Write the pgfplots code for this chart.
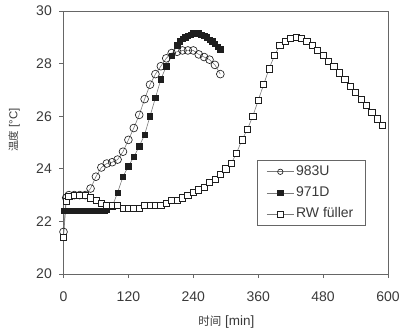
\documentclass[border=0pt]{standalone}
\usepackage{fontspec}
\setmainfont{Liberation Sans}
\newfontfamily\cjk{Noto Sans CJK SC}
\usepackage{pgfplots}
\pgfplotsset{compat=1.18}
\definecolor{axc}{HTML}{666666}
\definecolor{txc}{HTML}{3A3A3A}
\definecolor{lnc}{HTML}{7A7A7A}
\definecolor{mkc}{HTML}{1E1E1E}

\pgfplotstableread{
x y
0 21.6
5 22.9
10 23.0
20 23.0
30 23.0
40 23.0
50 23.25
60 23.7
70 24.05
80 24.2
90 24.25
100 24.35
110 24.65
120 25.1
130 25.55
140 26.05
150 26.65
160 27.2
170 27.6
180 27.9
190 28.2
200 28.4
210 28.45
220 28.5
230 28.5
240 28.5
250 28.35
260 28.25
270 28.15
280 27.95
290 27.6
}\tabU

\pgfplotstableread{
x y
0 22.4
5 22.4
10 22.4
15 22.4
20 22.4
25 22.4
30 22.4
35 22.4
40 22.4
45 22.4
50 22.4
55 22.4
60 22.4
65 22.4
70 22.4
75 22.4
80 22.45
90 22.55
100 23.1
110 23.7
120 24.1
130 24.45
140 24.85
150 25.3
160 26.0
170 26.7
180 27.4
190 27.9
200 28.3
210 28.7
215 28.85
220 28.95
225 29.0
230 29.05
235 29.1
240 29.15
245 29.15
250 29.15
255 29.1
260 29.05
265 29.0
270 28.9
275 28.85
280 28.75
285 28.65
290 28.55
}\tabD

\pgfplotstableread{
x y
0 21.4
5 22.75
10 22.95
20 23.0
30 23.0
40 23.0
50 22.9
60 22.8
70 22.7
80 22.6
90 22.6
100 22.6
110 22.5
120 22.5
130 22.5
140 22.5
150 22.6
160 22.6
170 22.6
180 22.6
190 22.7
200 22.8
210 22.8
220 22.9
230 23.0
240 23.1
250 23.2
260 23.3
270 23.5
280 23.6
290 23.8
300 24.0
310 24.2
320 24.6
330 25.1
340 25.5
350 26.0
360 26.6
370 27.2
380 27.8
390 28.3
400 28.7
410 28.85
420 28.95
430 29.0
440 28.95
450 28.85
460 28.7
470 28.5
480 28.3
490 28.1
500 27.9
510 27.65
520 27.4
530 27.15
540 26.9
550 26.65
560 26.4
570 26.15
580 25.9
590 25.65
}\tabRW

\begin{document}
\begin{tikzpicture}
\path[use as bounding box] (-63.5bp,-60bp) rectangle (337.5bp,274bp);
\begin{axis}[
  scale only axis, width=324.5bp, height=263bp,
  xmin=0, xmax=600, ymin=20, ymax=30,
  xtick={0,120,240,360,480,600}, ytick={20,22,24,26,28,30},
  axis line style={axc, line width=0.9bp},
  tick style={axc, line width=0.8bp},
  tick align=outside, major tick length=4bp,
  xtick pos=bottom, ytick pos=left,
  /pgf/number format/assume math mode=true,
  tick label style={font=\fontsize{14bp}{16bp}\selectfont, text=txc, inner sep=0pt},
  xticklabel style={anchor=north, yshift=-13.5bp},
  yticklabel style={anchor=east, xshift=-7.5bp},
  xlabel={{\cjk\fontsize{11.5bp}{14bp}\selectfont 时间}\ [min]},
  ylabel={{\cjk\fontsize{10.5bp}{13bp}\selectfont 温度}\ [°C]},
  xlabel style={at={(axis description cs:0.502,-0.1825)}, anchor=center, font=\fontsize{13.5bp}{15bp}\selectfont, text=txc},
  ylabel style={at={(axis description cs:-0.1525,0.5475)}, anchor=center, font=\fontsize{11.5bp}{14bp}\selectfont, text=txc},
  legend cell align=left,
  legend image code/.code={\draw[mark repeat=2,mark phase=2,#1,mark size=2.7bp] plot coordinates {(0bp,0bp) (13.5bp,0bp) (27bp,0bp)};},
  legend style={at={(axis description cs:0.5954,0.4335)}, anchor=north west,
    draw=axc, line width=0.6bp, font=\fontsize{14bp}{16bp}\selectfont, text=txc,
    inner xsep=9.5bp, inner ysep=3bp, row sep=4.2bp,
    nodes={inner sep=2bp, text height=10bp, text depth=3bp},
    /tikz/every even column/.append style={column sep=1bp}},
]
\addplot[lnc, line width=0.6bp, mark=o, mark size=3.9bp, mark options={draw=mkc, fill=white, line width=0.65bp, solid}] table {\tabU};
\addlegendentry{983U}
\addplot[lnc, line width=0.6bp, mark=square*, mark size=2.7bp, mark options={draw=mkc, fill=mkc, line width=0.5bp, solid}] table {\tabD};
\addlegendentry{971D}
\addplot[lnc, line width=0.6bp, mark=square*, mark size=3.1bp, mark options={draw=mkc, fill=white, line width=0.65bp, solid}] table {\tabRW};
\addlegendentry{RW füller}
\end{axis}
\end{tikzpicture}
\end{document}
